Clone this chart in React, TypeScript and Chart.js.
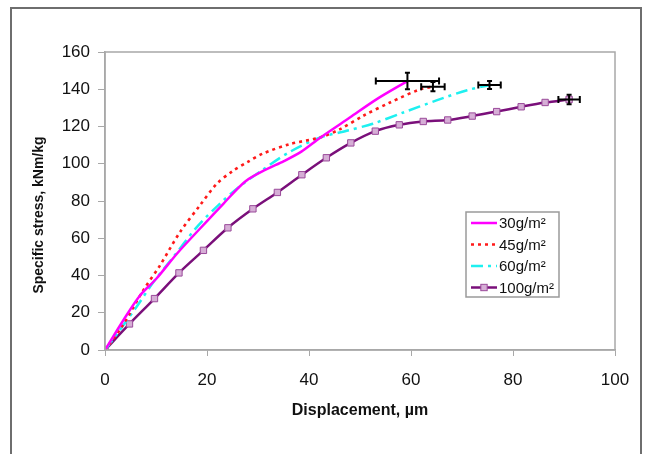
import React, { useEffect, useRef } from "react";
import { Chart, registerables } from "chart.js";
Chart.register(...registerables);

const xTickValues = [0, 20, 40, 60, 80, 100];
const yTickValues = [0, 20, 40, 60, 80, 100, 120, 140, 160];

const seriesLabels = ["30g/m²", "45g/m²", "60g/m²", "100g/m²"];

const x30 = [0, 3.6, 6.9, 10.1, 14.1, 18.6, 23.2, 27.5, 31.5, 35, 38.5, 42.2, 48, 53.3, 59.3];
const y30 = [0, 16, 29.4, 38.4, 51.7, 65.1, 78.5, 90.5, 96.8, 101.3, 106.5, 114, 124.8, 134.7, 144.4];

const x45 = [0, 3.3, 7.5, 10.8, 14.7, 18.6, 21.9, 25, 28, 31, 36.3, 42.2, 46.1, 50.6, 55.9, 61.8, 64.3];
const y45 = [0, 12.5, 32, 45.5, 63.3, 77.6, 89.2, 96, 101, 105.5, 110.6, 114.1, 118.6, 125.7, 132.9, 140, 141.4];

const x60 = [0, 2.9, 6.2, 9.5, 13.4, 18, 22.5, 26.5, 30.7, 36, 42.2, 47.4, 52.5, 58.5, 65, 71, 75.4];
const y60 = [0, 10.7, 23.2, 36.5, 49.9, 66, 78.5, 88, 96.3, 106, 114.1, 117.7, 121.5, 127.5, 134, 139.5, 142.3];

const x100 = [0, 4.8, 9.7, 14.5, 19.3, 24.1, 29, 33.8, 38.6, 43.4, 48.2, 53, 57.7, 62.4, 67.2, 72, 76.8, 81.6, 86.3, 91];
const y100 = [0, 14, 27.6, 41.4, 53.5, 65.6, 75.8, 84.6, 94.1, 103.2, 111.2, 117.5, 120.9, 122.7, 123.5, 125.6, 128, 130.6, 132.9, 134.5];

// error bars at the end of each curve
const errX = [59.3, 64.3, 75.4, 91.0];
const errY = [144.4, 141.4, 142.3, 134.5];
const errXHalf = [6.2, 2.3, 2.2, 2.1];
const errYHalf = [4.4, 2.5, 2.1, 2.5];

const FONT = "'Liberation Sans', Arial, Helvetica, sans-serif";

const zip = (xs: number[], ys: number[]) => xs.map((x, i) => ({ x, y: ys[i] }));

const framePlugin = {
  id: "frame",
  beforeDraw(chart: any) {
    const ctx = chart.ctx;
    ctx.save();
    ctx.fillStyle = "#ffffff";
    ctx.fillRect(0, 0, chart.width, chart.height);
    ctx.strokeStyle = "#6e6e6e";
    ctx.lineWidth = 2;
    ctx.strokeRect(11, 8, 630, 520);
    ctx.restore();
  },
  afterDraw(chart: any) {
    const ctx = chart.ctx;
    const a = chart.chartArea;
    ctx.save();
    ctx.strokeStyle = "#a8a8a8";
    ctx.lineWidth = 1.5;
    ctx.strokeRect(a.left, a.top, a.right - a.left, a.bottom - a.top);
    // y-axis title
    ctx.fillStyle = "#111";
    ctx.font = `bold 14px ${FONT}`;
    ctx.textAlign = "center";
    ctx.textBaseline = "middle";
    ctx.translate(39, 215);
    ctx.rotate(-Math.PI / 2);
    ctx.fillText("Specific stress, kNm/kg", 0, 0);
    ctx.restore();
  },
};

const errorBarPlugin = {
  id: "errbars",
  afterDatasetsDraw(chart: any) {
    const ctx = chart.ctx;
    const xs = chart.scales.x;
    const ys = chart.scales.y;
    ctx.save();
    ctx.strokeStyle = "#000";
    ctx.lineWidth = 2;
    ctx.setLineDash([]);
    errX.forEach((cx, i) => {
      const px = xs.getPixelForValue(cx);
      const py = ys.getPixelForValue(errY[i]);
      const x1 = xs.getPixelForValue(cx - errXHalf[i]);
      const x2 = xs.getPixelForValue(cx + errXHalf[i]);
      const y1 = ys.getPixelForValue(errY[i] + errYHalf[i]);
      const y2 = ys.getPixelForValue(errY[i] - errYHalf[i]);
      ctx.beginPath();
      ctx.moveTo(x1, py); ctx.lineTo(x2, py);
      ctx.moveTo(x1, py - 3.5); ctx.lineTo(x1, py + 3.5);
      ctx.moveTo(x2, py - 3.5); ctx.lineTo(x2, py + 3.5);
      ctx.moveTo(px, y1); ctx.lineTo(px, y2);
      ctx.moveTo(px - 2.5, y1); ctx.lineTo(px + 2.5, y1);
      ctx.moveTo(px - 2.5, y2); ctx.lineTo(px + 2.5, y2);
      ctx.stroke();
    });
    ctx.restore();
  },
};

const legendPlugin = {
  id: "boxLegend",
  afterDraw(chart: any) {
    const ctx = chart.ctx;
    const bx = 466, by = 212, bw = 93, bh = 85;
    ctx.save();
    ctx.fillStyle = "#fff";
    ctx.fillRect(bx, by, bw, bh);
    ctx.strokeStyle = "#9a9a9a";
    ctx.lineWidth = 1.5;
    ctx.strokeRect(bx, by, bw, bh);
    chart.data.datasets.forEach((ds: any, i: number) => {
      const y = by + 11 + i * 21.5;
      ctx.save();
      ctx.strokeStyle = ds.borderColor;
      ctx.lineWidth = ds.borderWidth;
      ctx.setLineDash(ds.borderDash || []);
      ctx.lineCap = "butt";
      ctx.beginPath();
      ctx.moveTo(471, y);
      ctx.lineTo(497, y);
      ctx.stroke();
      if (ds.pointRadius > 0) {
        ctx.setLineDash([]);
        ctx.fillStyle = ds.pointBackgroundColor;
        ctx.strokeStyle = ds.pointBorderColor;
        ctx.lineWidth = 1;
        const s = ds.pointRadius * Math.SQRT1_2;
        ctx.fillRect(484 - s, y - s, 2 * s, 2 * s);
        ctx.strokeRect(484 - s, y - s, 2 * s, 2 * s);
      }
      ctx.restore();
      ctx.fillStyle = "#111";
      ctx.font = `15px ${FONT}`;
      ctx.textAlign = "left";
      ctx.textBaseline = "middle";
      ctx.fillText(ds.label, 499, y + 1);
    });
    ctx.restore();
  },
};

export default function App() {
  const ref = useRef<HTMLCanvasElement | null>(null);
  useEffect(() => {
    document.body.style.margin = "0";
    const canvas = ref.current;
    if (!canvas) return;
    const chart = new Chart(canvas, {
      type: "scatter",
      data: {
        datasets: [
          {
            label: seriesLabels[0],
            data: zip(x30, y30),
            showLine: true,
            borderColor: "#ff00ff",
            borderWidth: 2.5,
            pointRadius: 0,
            tension: 0.3,
          },
          {
            label: seriesLabels[1],
            data: zip(x45, y45),
            showLine: true,
            borderColor: "#ff1a1a",
            borderWidth: 2.6,
            borderDash: [3, 4],
            pointRadius: 0,
            tension: 0.3,
          },
          {
            label: seriesLabels[2],
            data: zip(x60, y60),
            showLine: true,
            borderColor: "#1ef0f0",
            borderWidth: 2.5,
            borderDash: [12, 5, 3, 5],
            pointRadius: 0,
            tension: 0.3,
          },
          {
            label: seriesLabels[3],
            data: zip(x100, y100),
            showLine: true,
            borderColor: "#7a0f7a",
            borderWidth: 2.5,
            pointStyle: "rect",
            pointRadius: 4.5,
            pointBackgroundColor: "#d6aed6",
            pointBorderColor: "#9a4a9a",
            pointBorderWidth: 1,
            tension: 0.3,
          },
        ] as any,
      },
      options: {
        animation: false,
        responsive: false,
        maintainAspectRatio: false,
        layout: { padding: { left: 0, top: 52, right: 30, bottom: 0 } },
        plugins: {
          legend: { display: false },
          tooltip: { enabled: false },
        },
        scales: {
          x: {
            type: "linear",
            min: 0,
            max: 100,
            afterBuildTicks: (s: any) => {
              s.ticks = xTickValues.map((v) => ({ value: v }));
            },
            afterFit: (s: any) => {
              s.height = 104;
            },
            grid: { drawOnChartArea: false, drawTicks: true, tickLength: 6, color: "#a8a8a8" },
            border: { color: "#a8a8a8", width: 1.5 },
            ticks: { color: "#111", font: { family: FONT, size: 17 }, padding: 14, maxRotation: 0 },
            title: {
              display: true,
              text: "Displacement, µm",
              color: "#111",
              font: { family: FONT, size: 16, weight: "bold" },
              padding: { top: 0, bottom: 34 },
            },
          },
          y: {
            type: "linear",
            min: 0,
            max: 160,
            afterBuildTicks: (s: any) => {
              s.ticks = yTickValues.map((v) => ({ value: v }));
            },
            afterFit: (s: any) => {
              s.width = 105;
            },
            grid: { drawOnChartArea: false, drawTicks: true, tickLength: 7, color: "#a8a8a8" },
            border: { color: "#a8a8a8", width: 1.5 },
            ticks: { color: "#111", font: { family: FONT, size: 17 }, padding: 8 },
          },
        },
      } as any,
      plugins: [framePlugin, errorBarPlugin, legendPlugin],
    });
    return () => chart.destroy();
  }, []);
  return (
    <div style={{ position: "absolute", left: 0, top: 0, width: 645, height: 454, background: "#fff" }}>
      <canvas ref={ref} width={645} height={454} style={{ display: "block" }} />
    </div>
  );
}
